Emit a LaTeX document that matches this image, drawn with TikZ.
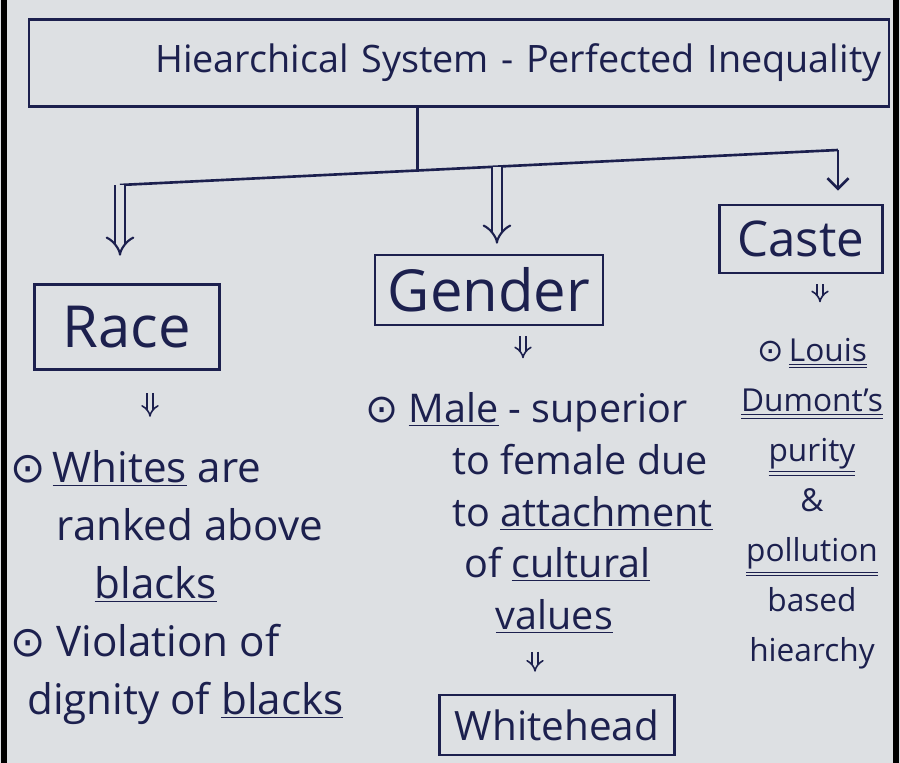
\documentclass[tikz,border=0pt]{standalone}
\usepackage{fontspec}
\setmainfont{Open Sans}
\newfontfamily\symfont{DejaVu Sans}
\usetikzlibrary{positioning, calc, arrows.meta}
\definecolor{ink}{RGB}{28,32,78}
\definecolor{paper}{RGB}{221,224,227}
\newcommand{\pt}{{\symfont ⊙}}
\newcommand{\uu}[1]{\underline{\underline{#1}}}

\begin{document}
\begin{tikzpicture}[
  x=0.02cm, y=-0.02cm,
  box/.style={draw=ink, line width=1.5pt, text=ink, align=center, inner sep=0pt},
  note/.style={text=ink, inner sep=0pt, align=left},
  link/.style={draw=ink, line width=1.5pt},
  dbl/.style={draw=ink, line width=1.2pt, double=paper, double distance=4.5pt, -{Implies}},
  tick/.style={draw=ink, line width=0.9pt, double=paper, double distance=2.5pt, -{Implies}},
  >={Straight Barb[length=6pt, width=12pt]}]
  \fill[paper] (0,0) rectangle (900,763);
  \useasboundingbox (0,0) rectangle (900,763);
  % page edges
  \draw[line width=3pt, black] (4,0) -- (4,763);
  \draw[line width=3pt, black] (896,0) -- (896,763);

  \node[box, minimum width=17.2cm, minimum height=1.75cm, text width=16.9cm, align=right,
        font=\fontsize{21.5}{26}\selectfont] (title) at (459,63) {Hiearchical System - Perfected Inequality};

  \node[box, minimum width=3.7cm, minimum height=1.7cm, font=\fontsize{33}{40}\selectfont] (race) at (127,327) {Race};
  \node[box, minimum width=4.56cm, minimum height=1.4cm, font=\fontsize{33}{40}\selectfont] (gender) at (489,290) {Gender};
  \node[box, minimum width=3.26cm, minimum height=1.36cm, font=\fontsize{28}{34}\selectfont] (caste) at (801,239) {Caste};

  \node[note, anchor=north west, font=\fontsize{24}{33}\selectfont] (racetext) at (10,450)
    {\pt\,\underline{Whites} are\\
     \hspace{1.1em}ranked above\\
     \hspace{2em}\underline{blacks}\\
     \pt\ Violation of\\
     \hspace{0.4em}dignity of \underline{blacks}};
  \node[note, anchor=north west, font=\fontsize{22.5}{29.5}\selectfont] (gendertext) at (365,392)
    {\pt\ \underline{Male} - superior\\
     \hspace{2.2em}to female due\\
     \hspace{2.2em}to \underline{attachment}\\
     \hspace{2.5em}of \underline{cultural}\\
     \hspace{3.3em}\underline{values}};
  \node[note, align=center, anchor=north, font=\fontsize{18}{28.5}\selectfont] (castetext) at (812,338)
    {\pt\,\uu{Louis}\\ \uu{Dumont's}\\ \uu{purity}\\ \&\\ \uu{pollution}\\ based\\ hiearchy};
  \node[box, minimum width=4.7cm, minimum height=1.2cm, font=\fontsize{23}{28}\selectfont] (whitehead) at (557,725) {Whitehead};

  % branch bar under the title
  \coordinate (barL) at (120,185);
  \coordinate (barR) at (838,150);
  \coordinate (stem) at ($(barL)!0.414!(barR)$);
  \coordinate (gbar) at ($(barL)!0.525!(barR)$);
  \draw[link] (title.south -| stem) -- (stem);
  \draw[link] (barL) -- (barR);

  \draw[dbl, shorten >=0.55cm] (barL) -- (barL |- race.north);
  \draw[dbl, shorten >=0.2cm] (gbar) -- (gbar |- gender.north);
  \draw[link, ->, shorten >=0.26cm] (barR) -- (barR |- caste.north);

  \draw[tick] ($(race.south)+(23,22)$) -- ++(0,24);
  \draw[tick] ($(gender.south)+(34,10)$) -- ++(0,22);
  \draw[tick] ($(caste.south)+(19,10)$) -- ++(0,18);
  \draw[tick] ($(whitehead.north)+(-22,-42)$) -- ++(0,20);
\end{tikzpicture}
\end{document}
